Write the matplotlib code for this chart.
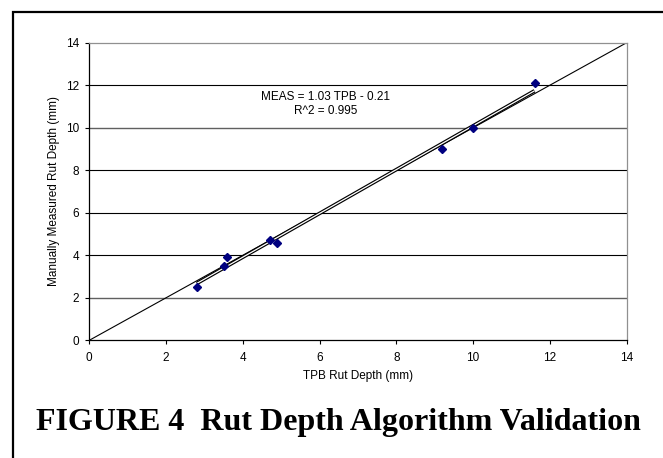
import matplotlib.pyplot as plt
import matplotlib.patches as patches
import numpy as np

plt.rcParams['font.family'] = 'Liberation Sans'

# measured points (TPB vs manual)
tpb = [2.8, 3.5, 3.6, 4.7, 4.9, 9.2, 10.0, 11.6]
meas = [2.5, 3.5, 3.9, 4.7, 4.6, 9.0, 10.0, 12.1]

# regression MEAS = 1.03 TPB - 0.21
slope = 1.03
intercept = -0.21

ticks = [0, 2, 4, 6, 8, 10, 12, 14]

fig = plt.figure(figsize=(6.63, 4.58), dpi=100)
ax = fig.add_axes([0.1347, 0.2570, 0.8105, 0.6498])

# horizontal gridlines
for t in ticks[1:-1]:
    c = '#606060' if t in (2, 10) else 'black'
    ax.axhline(t, color=c, lw=1.0 if t in (2, 10) else 0.8, zorder=1)

# 1:1 line
ax.plot([0, 14], [0, 14], color='black', lw=0.8, zorder=2)

# regression line (double line look)
xr = np.array([min(tpb), max(tpb)])
yr = slope * xr + intercept
ax.plot(xr, yr, color='black', lw=2.6, zorder=3, solid_capstyle='butt')
ax.plot(xr, yr, color='white', lw=0.9, zorder=4, solid_capstyle='butt')

ax.plot(tpb, meas, linestyle='none', marker='D', markersize=4.5,
        color='#000080', zorder=5)

ax.text(6.16, 11.46, 'MEAS = 1.03 TPB - 0.21', ha='center', va='center', fontsize=8.5)
ax.text(6.16, 10.8, 'R^2 = 0.995', ha='center', va='center', fontsize=8.5)

ax.set_xlim(0, 14)
ax.set_ylim(0, 14)
ax.set_xticks(ticks)
ax.set_yticks(ticks)
ax.tick_params(labelsize=8.5, direction='out', length=3, width=0.8)
ax.tick_params(axis='x', pad=5.5)
ax.tick_params(axis='y', pad=4.5)
ax.set_xlabel('TPB Rut Depth (mm)', fontsize=8.5, labelpad=4)
ax.set_ylabel('Manually Measured Rut Depth (mm)', fontsize=8.5, labelpad=4)

for s in ['left', 'bottom']:
    ax.spines[s].set_color('black')
    ax.spines[s].set_linewidth(0.9)
for s in ['top', 'right']:
    ax.spines[s].set_color('#909090')
    ax.spines[s].set_linewidth(0.9)

# outer frame (partly off the image)
frame = patches.Rectangle((13 / 663, -0.2), 1.2, 1.2 - 12 / 458,
                          transform=fig.transFigure, fill=False,
                          edgecolor='black', lw=1.6)
fig.patches.append(frame)

fig.text(0.511, 1 - 430 / 458, 'FIGURE 4  Rut Depth Algorithm Validation',
         ha='center', va='baseline', fontsize=23, fontweight='bold',
         family='Liberation Serif')

fig.savefig('out.png', dpi=100)
